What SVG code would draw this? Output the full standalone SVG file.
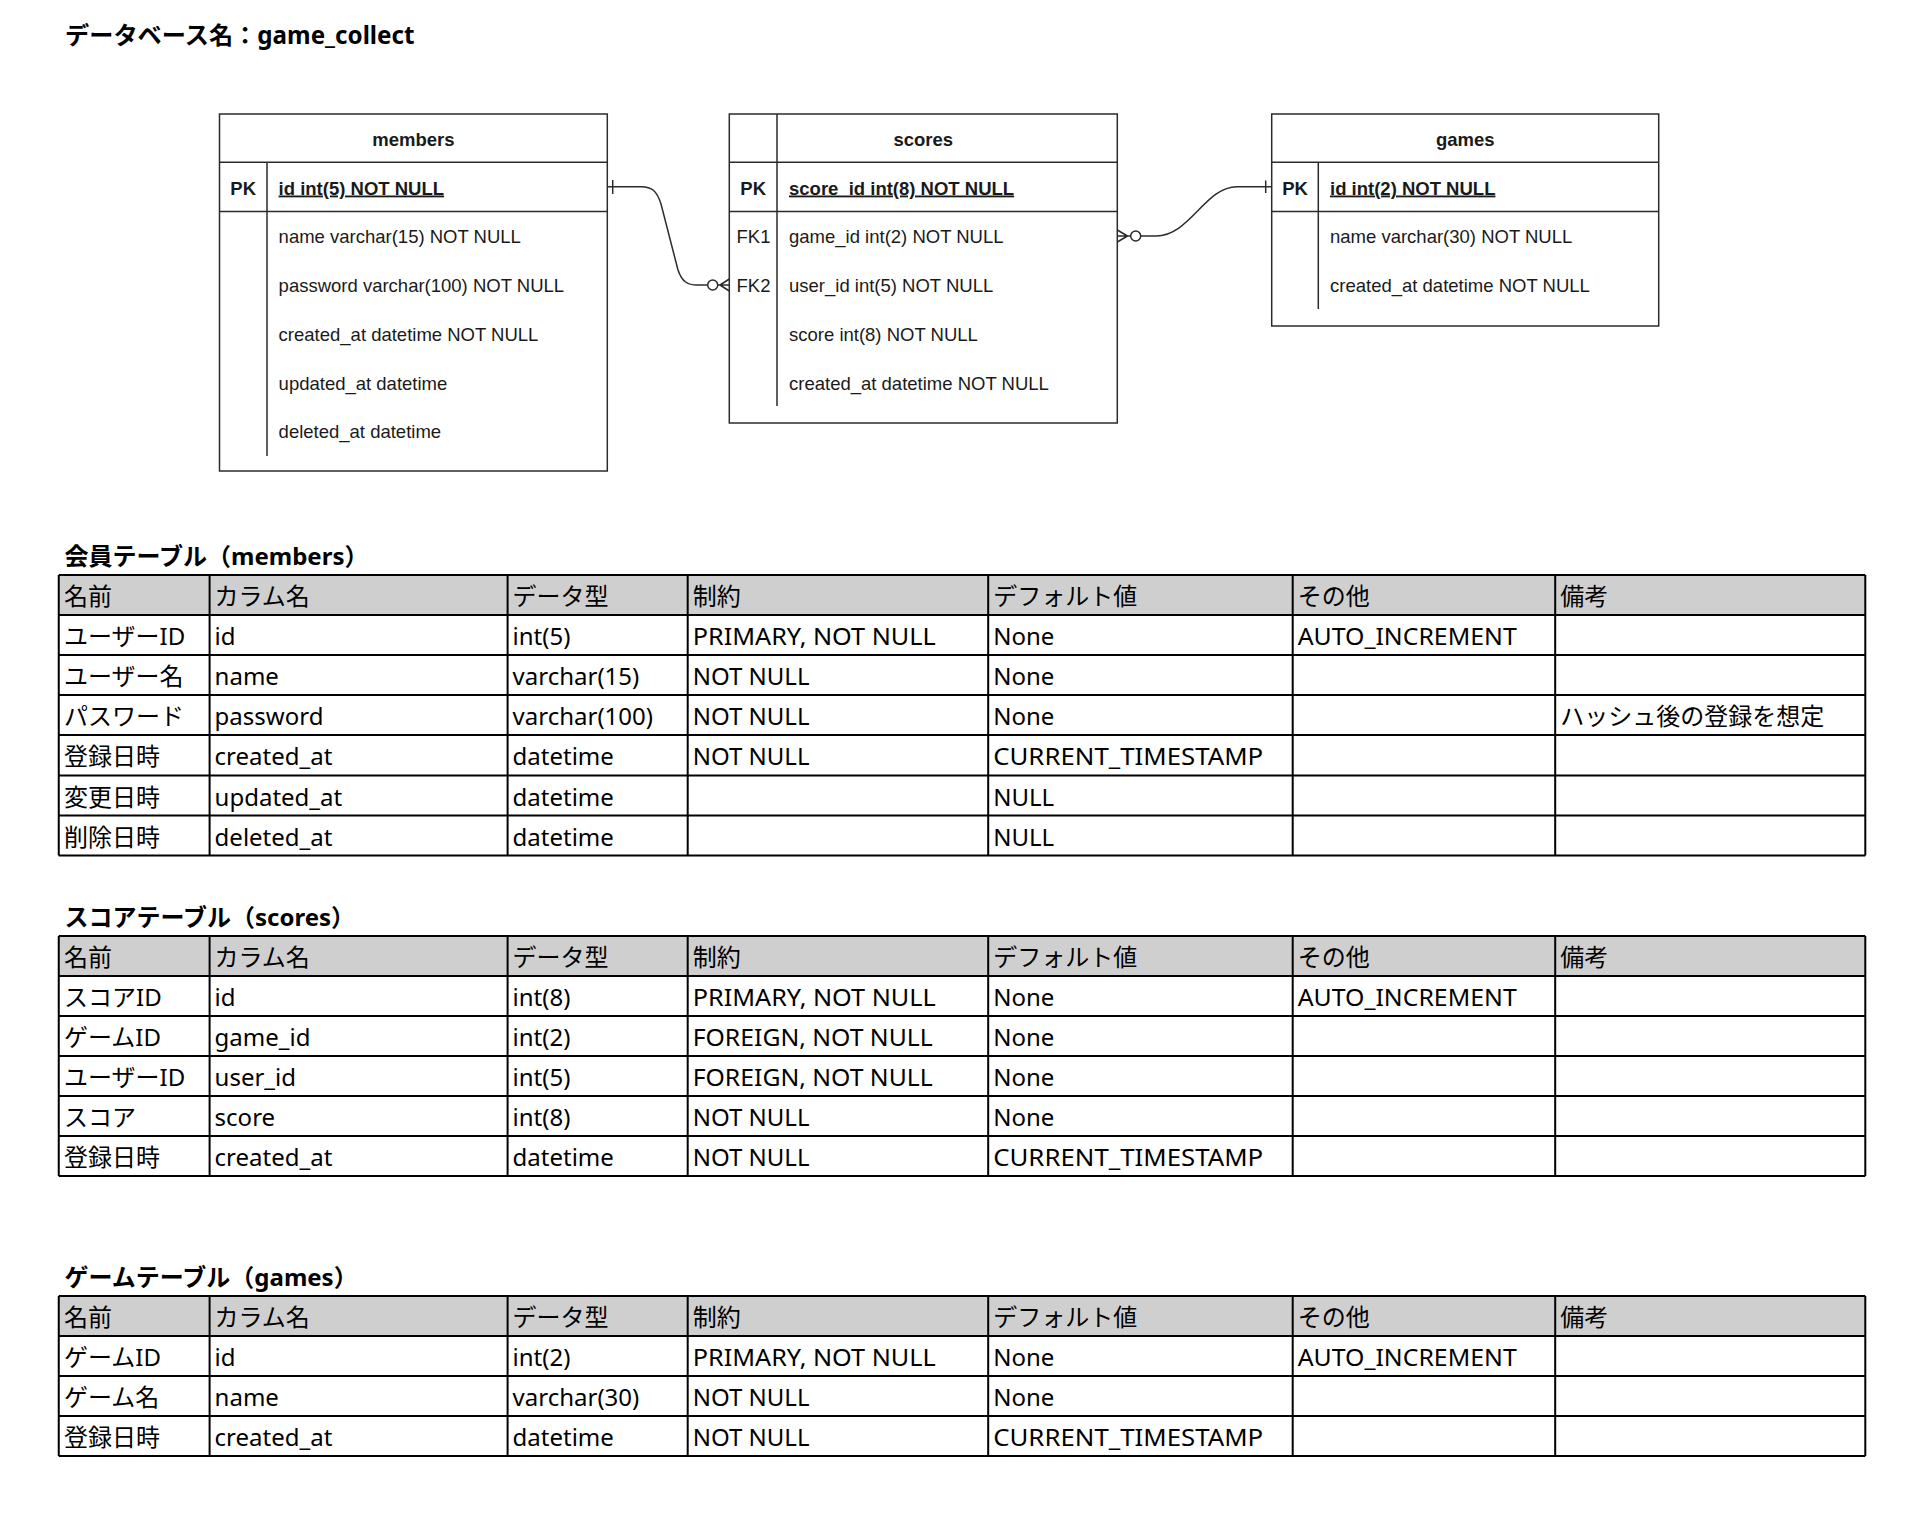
<svg xmlns="http://www.w3.org/2000/svg" width="1932" height="1516" viewBox="0 0 1932 1516">
<style>
.bg{fill:#fff}
.box{fill:#fff;stroke:#2b2b2b;stroke-width:1.5}
.sep{fill:none;stroke:#2b2b2b;stroke-width:1.5}
.er{font-family:"Liberation Sans",Arial,sans-serif;font-size:18.5px;fill:#1a1a1a}
.erb{font-family:"Liberation Sans",Arial,sans-serif;font-size:18.5px;font-weight:700;fill:#1a1a1a}
.mid{text-anchor:middle}
.conn{fill:none;stroke:#2b2b2b;stroke-width:1.5}
.circ{fill:#fff;stroke:#2b2b2b;stroke-width:1.5}
.ttl{font-family:"Noto Sans","Noto Sans CJK JP",sans-serif;font-size:24px;font-weight:700;fill:#000}
.t{font-family:"Noto Sans","Noto Sans CJK JP",sans-serif;font-size:24px;fill:#000}
.hdr{fill:#d0cfcf}
.grid{fill:none;stroke:#000;stroke-width:2}
</style>
<rect class="bg" x="0" y="0" width="1932" height="1516"/>

<text id="title" class="ttl" x="65" y="43.5" style="font-size:24.2px">データベース名：game_collect</text>

<g id="members">
  <rect class="box" x="219.5" y="114" width="387.8" height="357"/>
  <path class="sep" d="M219.5,162.3 H607.3 M219.5,211.5 H607.3 M267,162.3 V456"/>
  <text class="erb mid" x="413.4" y="145.5">members</text>
  <text class="erb mid" x="243.2" y="194.5">PK</text>
  <text class="erb" x="278.6" y="194.5" text-decoration="underline">id int(5) NOT NULL</text>
  <text class="er" x="278.6" y="243.3">name varchar(15) NOT NULL</text>
  <text class="er" x="278.6" y="291.8">password varchar(100) NOT NULL</text>
  <text class="er" x="278.6" y="340.8">created_at datetime NOT NULL</text>
  <text class="er" x="278.6" y="389.8">updated_at datetime</text>
  <text class="er" x="278.6" y="438.3">deleted_at datetime</text>
</g>

<g id="scores">
  <rect class="box" x="729.3" y="114" width="388" height="309"/>
  <path class="sep" d="M729.3,162.3 H1117.3 M729.3,211.5 H1117.3 M777,114 V406"/>
  <text class="erb mid" x="923.3" y="145.5">scores</text>
  <text class="erb mid" x="753.2" y="194.5">PK</text>
  <text class="erb" x="789" y="194.5" text-decoration="underline">score_id int(8) NOT NULL</text>
  <text class="er" x="736.5" y="243.3">FK1</text>
  <text class="er" x="789" y="243.3">game_id int(2) NOT NULL</text>
  <text class="er" x="736.5" y="291.8">FK2</text>
  <text class="er" x="789" y="291.8">user_id int(5) NOT NULL</text>
  <text class="er" x="789" y="340.8">score int(8) NOT NULL</text>
  <text class="er" x="789" y="389.8">created_at datetime NOT NULL</text>
</g>

<g id="games">
  <rect class="box" x="1271.7" y="114" width="387" height="212"/>
  <path class="sep" d="M1271.7,162.3 H1658.7 M1271.7,211.5 H1658.7 M1318.3,162.3 V309"/>
  <text class="erb mid" x="1465.2" y="145.5">games</text>
  <text class="erb mid" x="1295" y="194.5">PK</text>
  <text class="erb" x="1330" y="194.5" text-decoration="underline">id int(2) NOT NULL</text>
  <text class="er" x="1330" y="243.3">name varchar(30) NOT NULL</text>
  <text class="er" x="1330" y="291.8">created_at datetime NOT NULL</text>
</g>

<g id="connectors">
  <g id="members-scores">
    <path class="conn" d="M607.3,186.7 H641 C652,186.7 657,191 661,204 L678,270 C682,282 688,285 697,285 H707.7"/>
    <path class="conn" d="M612.7,180 V194"/>
    <circle class="circ" cx="712.7" cy="285" r="5"/>
    <path class="conn" d="M717.7,285 H729.3 M720,285 L729.3,279 M720,285 L729.3,291"/>
  </g>
  <g id="scores-games">
    <path class="conn" d="M1140.7,236 H1156 C1190,236 1205,186.7 1237,186.7 H1271.7"/>
    <path class="conn" d="M1265.7,180.5 V193"/>
    <circle class="circ" cx="1135.7" cy="236" r="5"/>
    <path class="conn" d="M1117.3,236 H1130.7 M1127.5,236 L1117.3,230 M1127.5,236 L1117.3,242"/>
  </g>
</g>

<g id="members-table">
  <text class="ttl" x="64.5" y="565">会員テーブル（members）</text>
  <rect class="hdr" x="58.75" y="575" width="1806.55" height="40"/>
  <path class="grid" d="M58.75,575 H1865.3 M58.75,615 H1865.3 M58.75,655 H1865.3 M58.75,695 H1865.3 M58.75,735 H1865.3 M58.75,775.5 H1865.3 M58.75,815.5 H1865.3 M58.75,855.5 H1865.3 M58.75,575 V855.5 M209.6,575 V855.5 M507.6,575 V855.5 M687.7,575 V855.5 M988.2,575 V855.5 M1292.7,575 V855.5 M1555.2,575 V855.5 M1865.3,575 V855.5"/>
  <g class="t">
    <text x="64" y="605">名前</text><text x="214.6" y="605">カラム名</text><text x="512.6" y="605">データ型</text><text x="692.7" y="605">制約</text><text x="993.2" y="605">デフォルト値</text><text x="1297.7" y="605">その他</text><text x="1560.2" y="605">備考</text>
    <text x="64" y="645">ユーザーID</text><text x="214.6" y="645">id</text><text x="512.6" y="645">int(5)</text><text x="692.7" y="645" textLength="243" lengthAdjust="spacingAndGlyphs">PRIMARY, NOT NULL</text><text x="993.2" y="645">None</text><text x="1297.7" y="645" textLength="219" lengthAdjust="spacingAndGlyphs">AUTO_INCREMENT</text>
    <text x="64" y="685">ユーザー名</text><text x="214.6" y="685">name</text><text x="512.6" y="685">varchar(15)</text><text x="692.7" y="685">NOT NULL</text><text x="993.2" y="685">None</text>
    <text x="64" y="725">パスワード</text><text x="214.6" y="725">password</text><text x="512.6" y="725">varchar(100)</text><text x="692.7" y="725">NOT NULL</text><text x="993.2" y="725">None</text><text x="1560.2" y="725">ハッシュ後の登録を想定</text>
    <text x="64" y="765">登録日時</text><text x="214.6" y="765">created_at</text><text x="512.6" y="765">datetime</text><text x="692.7" y="765">NOT NULL</text><text x="993.2" y="765" textLength="270" lengthAdjust="spacingAndGlyphs">CURRENT_TIMESTAMP</text>
    <text x="64" y="805.5">変更日時</text><text x="214.6" y="805.5">updated_at</text><text x="512.6" y="805.5">datetime</text><text x="993.2" y="805.5">NULL</text>
    <text x="64" y="845.5">削除日時</text><text x="214.6" y="845.5">deleted_at</text><text x="512.6" y="845.5">datetime</text><text x="993.2" y="845.5">NULL</text>
  </g>
</g>

<g id="scores-table">
  <text class="ttl" x="64.5" y="926">スコアテーブル（scores）</text>
  <rect class="hdr" x="58.75" y="936" width="1806.55" height="40"/>
  <path class="grid" d="M58.75,936 H1865.3 M58.75,976 H1865.3 M58.75,1016 H1865.3 M58.75,1056 H1865.3 M58.75,1096 H1865.3 M58.75,1136 H1865.3 M58.75,1176 H1865.3 M58.75,936 V1176 M209.6,936 V1176 M507.6,936 V1176 M687.7,936 V1176 M988.2,936 V1176 M1292.7,936 V1176 M1555.2,936 V1176 M1865.3,936 V1176"/>
  <g class="t">
    <text x="64" y="966">名前</text><text x="214.6" y="966">カラム名</text><text x="512.6" y="966">データ型</text><text x="692.7" y="966">制約</text><text x="993.2" y="966">デフォルト値</text><text x="1297.7" y="966">その他</text><text x="1560.2" y="966">備考</text>
    <text x="64" y="1006">スコアID</text><text x="214.6" y="1006">id</text><text x="512.6" y="1006">int(8)</text><text x="692.7" y="1006" textLength="243" lengthAdjust="spacingAndGlyphs">PRIMARY, NOT NULL</text><text x="993.2" y="1006">None</text><text x="1297.7" y="1006" textLength="219" lengthAdjust="spacingAndGlyphs">AUTO_INCREMENT</text>
    <text x="64" y="1046">ゲームID</text><text x="214.6" y="1046">game_id</text><text x="512.6" y="1046">int(2)</text><text x="692.7" y="1046" textLength="240" lengthAdjust="spacingAndGlyphs">FOREIGN, NOT NULL</text><text x="993.2" y="1046">None</text>
    <text x="64" y="1086">ユーザーID</text><text x="214.6" y="1086">user_id</text><text x="512.6" y="1086">int(5)</text><text x="692.7" y="1086" textLength="240" lengthAdjust="spacingAndGlyphs">FOREIGN, NOT NULL</text><text x="993.2" y="1086">None</text>
    <text x="64" y="1126">スコア</text><text x="214.6" y="1126">score</text><text x="512.6" y="1126">int(8)</text><text x="692.7" y="1126">NOT NULL</text><text x="993.2" y="1126">None</text>
    <text x="64" y="1166">登録日時</text><text x="214.6" y="1166">created_at</text><text x="512.6" y="1166">datetime</text><text x="692.7" y="1166">NOT NULL</text><text x="993.2" y="1166" textLength="270" lengthAdjust="spacingAndGlyphs">CURRENT_TIMESTAMP</text>
  </g>
</g>

<g id="games-table">
  <text class="ttl" x="64.5" y="1286">ゲームテーブル（games）</text>
  <rect class="hdr" x="58.75" y="1296" width="1806.55" height="40"/>
  <path class="grid" d="M58.75,1296 H1865.3 M58.75,1336 H1865.3 M58.75,1376 H1865.3 M58.75,1416 H1865.3 M58.75,1456 H1865.3 M58.75,1296 V1456 M209.6,1296 V1456 M507.6,1296 V1456 M687.7,1296 V1456 M988.2,1296 V1456 M1292.7,1296 V1456 M1555.2,1296 V1456 M1865.3,1296 V1456"/>
  <g class="t">
    <text x="64" y="1326">名前</text><text x="214.6" y="1326">カラム名</text><text x="512.6" y="1326">データ型</text><text x="692.7" y="1326">制約</text><text x="993.2" y="1326">デフォルト値</text><text x="1297.7" y="1326">その他</text><text x="1560.2" y="1326">備考</text>
    <text x="64" y="1366">ゲームID</text><text x="214.6" y="1366">id</text><text x="512.6" y="1366">int(2)</text><text x="692.7" y="1366" textLength="243" lengthAdjust="spacingAndGlyphs">PRIMARY, NOT NULL</text><text x="993.2" y="1366">None</text><text x="1297.7" y="1366" textLength="219" lengthAdjust="spacingAndGlyphs">AUTO_INCREMENT</text>
    <text x="64" y="1406">ゲーム名</text><text x="214.6" y="1406">name</text><text x="512.6" y="1406">varchar(30)</text><text x="692.7" y="1406">NOT NULL</text><text x="993.2" y="1406">None</text>
    <text x="64" y="1446">登録日時</text><text x="214.6" y="1446">created_at</text><text x="512.6" y="1446">datetime</text><text x="692.7" y="1446">NOT NULL</text><text x="993.2" y="1446" textLength="270" lengthAdjust="spacingAndGlyphs">CURRENT_TIMESTAMP</text>
  </g>
</g>
</svg>
